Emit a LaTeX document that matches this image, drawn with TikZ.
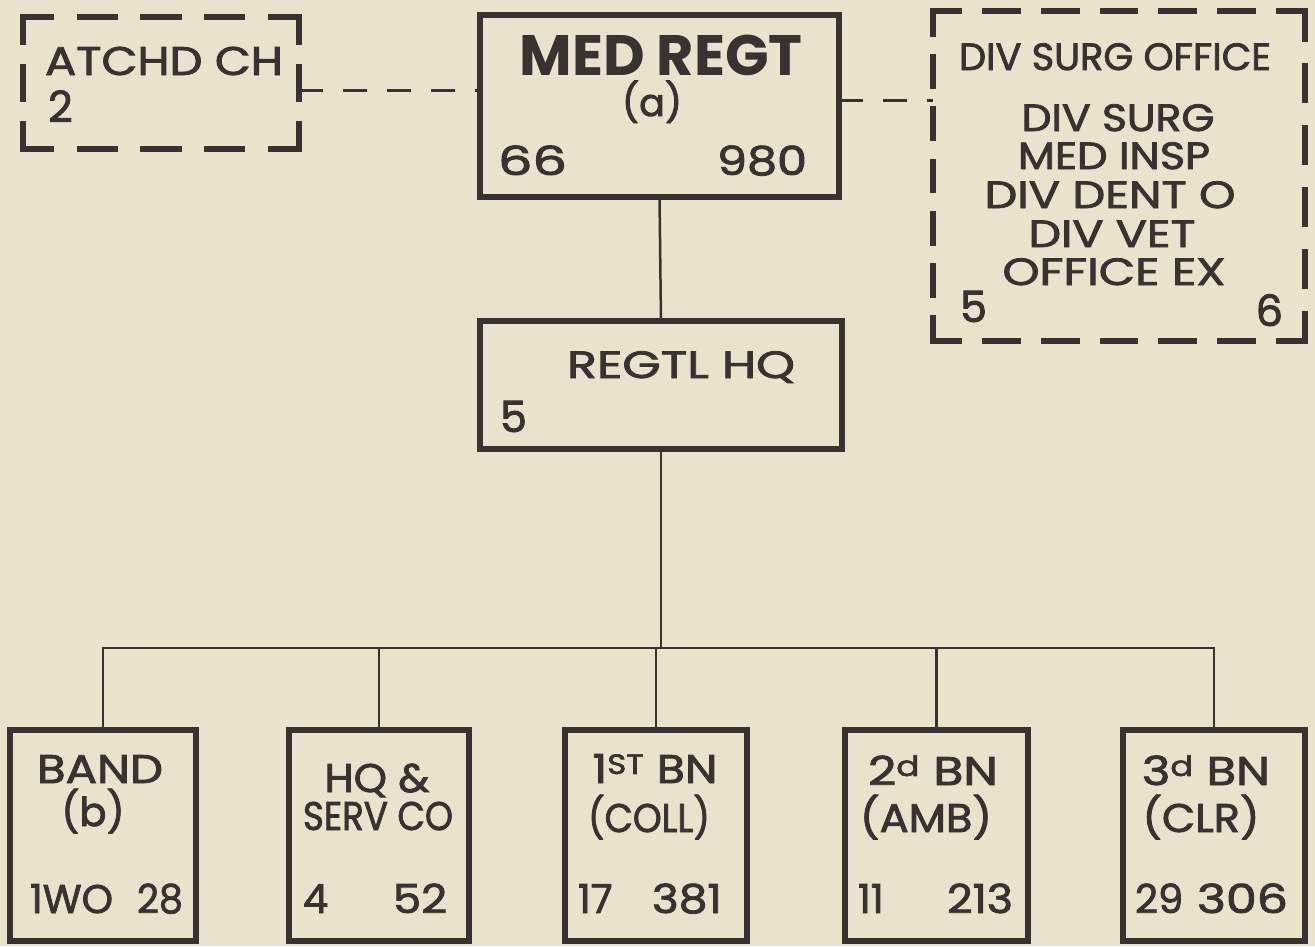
\documentclass[tikz,border=0pt]{standalone}
\usepackage{fontspec}
\usetikzlibrary{calc}
\setmainfont{Poppins}
\newfontfamily\hand{Poppins}[FakeBold=2]
\definecolor{ink}{HTML}{3A3230}
\definecolor{paper}{HTML}{EAE2CC}
% one side of a hand-drawn dashed frame: corner legs at both ends and #3 dashes between
\newcommand\dside[3]{%
  \pgfmathsetmacro\dsT{1.6+#3+(#3+1)*0.8}%
  \draw[dashside] (#1) -- ($(#1)!{0.8/\dsT}!(#2)$);
  \draw[dashside] ($(#1)!{1-0.8/\dsT}!(#2)$) -- (#2);
  \foreach \dsI in {1,...,#3}{%
    \pgfmathsetmacro\dsS{(0.8+\dsI*0.8+(\dsI-1))/\dsT}%
    \pgfmathsetmacro\dsE{\dsS+1/\dsT}%
    \draw[dashside] ($(#1)!\dsS!(#2)$) -- ($(#1)!\dsE!(#2)$);}}
\newcommand\fw[2]{\resizebox{#1pt}{\height}{#2}}
\begin{document}
\begin{tikzpicture}[x=1pt,y=-1pt,
  every node/.style={inner sep=0pt, outer sep=0pt},
  solidbox/.style={draw=ink, line width=6pt, rectangle},
  framebox/.style={rectangle},
  dashside/.style={draw=ink, line width=6pt, line cap=rect},
  link/.style={draw=ink, line width=2.5pt},
  dashlink/.style={draw=ink, line width=3pt, dash pattern=on 24pt off 20pt},
  txt/.style={text=ink, font=\hand\fontsize{38}{42}\selectfont, anchor=base},
  mid/.style={text=ink, font=\hand\fontsize{40}{44}\selectfont, anchor=base},
  num/.style={text=ink, font=\hand\fontsize{43}{46}\selectfont, anchor=base},
  big/.style={text=ink, font=\fontsize{57}{60}\selectfont\bfseries, anchor=base},
]
\fill[paper] (0,0) rectangle (1315,946);
\useasboundingbox (0,0) rectangle (1315,946);

% boxes
\node[framebox, minimum width=276pt, minimum height=132pt] (atchd) at (161,83) {};
\node[solidbox, minimum width=359pt, minimum height=182pt] (medregt) at (659.5,106) {};
\node[framebox, minimum width=372pt, minimum height=330pt] (divsurg) at (1119,176) {};
\node[solidbox, minimum width=362pt, minimum height=128pt] (regtl) at (661,385) {};
\node[solidbox, minimum width=186pt, minimum height=211pt] (band) at (103,835.5) {};
\node[solidbox, minimum width=180pt, minimum height=211pt] (hqserv) at (379,835.5) {};
\node[solidbox, minimum width=182pt, minimum height=211pt] (bn1) at (656,835.5) {};
\node[solidbox, minimum width=183pt, minimum height=211pt] (bn2) at (936.5,835.5) {};
\node[solidbox, minimum width=182pt, minimum height=211pt] (bn3) at (1214,835.5) {};

% dashed frames
\dside{atchd.north west}{atchd.north east}{3}
\dside{atchd.south west}{atchd.south east}{3}
\dside{atchd.north west}{atchd.south west}{1}
\dside{atchd.north east}{atchd.south east}{1}
\dside{divsurg.north west}{divsurg.north east}{5}
\dside{divsurg.south west}{divsurg.south east}{5}
\dside{divsurg.north west}{divsurg.south west}{5}
\dside{divsurg.north east}{divsurg.south east}{4}

% connectors
\coordinate (bus) at (665,648);
\draw[dashlink] ([yshift=-7pt]atchd.east) -- ([yshift=-7pt]atchd.east -| medregt.west);
\draw[dashlink] ([yshift=6pt]medregt.east) -- ([yshift=6pt]medregt.east -| divsurg.west);
\draw[link] (medregt.south) -- (regtl.north);
\draw[link] (regtl.south) -- (regtl.south |- bus);
\draw[link] (band.north) -- (band.north |- bus) -- (bn3.north |- bus) -- (bn3.north);
\foreach \b in {hqserv,bn1,bn2} \draw[link] (\b.north) -- (\b.north |- bus);

% texts: attached chaplain
\node[mid, anchor=base west] (t1) at (45,75) {\fw{238}{ATCHD CH}};
\node[num, anchor=base west] (t2) at (48,122) {2};

% medical regiment
\node[big] (t3) at (661,75) {\fw{283}{MED REGT}};
\node[txt] (t4) at (652,116) {(a)};
\node[mid, anchor=base west] (t5) at (498,175) {\fw{69}{66}};
\node[mid, anchor=base east] (t6) at (807,175) {\fw{90}{980}};

% division surgeon's office
\node[txt] (t7) at (1115,70) {\fw{312}{DIV SURG OFFICE}};
\node[txt] (t8) at (1118,131) {\fw{193}{DIV SURG}};
\node[txt] (t9) at (1114,169) {\fw{192}{MED INSP}};
\node[txt] (t10) at (1110,208) {\fw{251}{DIV DENT O}};
\node[txt] (t11) at (1112,247) {\fw{167}{DIV VET}};
\node[txt] (t12) at (1114,285) {\fw{223}{OFFICE EX}};
\node[num, anchor=base west] (t13) at (960,322) {5};
\node[num, anchor=base east] (t14) at (1283,326) {6};

% regimental HQ
\node[txt] (t15) at (681,378) {\fw{228}{REGTL HQ}};
\node[num, anchor=base west] (t16) at (500,432) {5};

% band
\node[mid] (b1) at (100,783) {\fw{126}{BAND}};
\node[mid] (b2) at (93,826) {(b)};
\node[mid, anchor=base west] (b3) at (30,913) {\fw{83}{1WO}};
\node[mid, anchor=base east] (b4) at (183,913) {\fw{46}{28}};

% HQ and service company
\node[mid] (h1) at (377,792) {\fw{105}{HQ \&}};
\node[mid] (h2) at (378,830) {\fw{150}{SERV CO}};
\node[mid, anchor=base west] (h3) at (303,913) {4};
\node[mid, anchor=base east] (h4) at (447,913) {\fw{54}{52}};

% 1st battalion
\node[mid] (c1) at (655,783) {\fw{125}{1\textsuperscript{ST} BN}};
\node[mid] (c2) at (649,832) {\fw{122}{(COLL)}};
\node[mid, anchor=base west] (c3) at (578,913) {17};
\node[mid, anchor=base east] (c4) at (722,913) {\fw{70}{381}};

% 2d battalion
\node[mid] (d1) at (933,785) {\fw{130}{2\textsuperscript{d} BN}};
\node[mid] (d2) at (926,832) {\fw{132}{(AMB)}};
\node[mid, anchor=base west] (d3) at (858,913) {11};
\node[mid, anchor=base east] (d4) at (1013,913) {\fw{66}{213}};

% 3d battalion
\node[mid] (e1) at (1206,785) {\fw{128}{3\textsuperscript{d} BN}};
\node[mid] (e2) at (1201,832) {\fw{117}{(CLR)}};
\node[mid, anchor=base west] (e3) at (1135,913) {29};
\node[mid, anchor=base east] (e4) at (1288,913) {\fw{91}{306}};
\end{tikzpicture}
\end{document}
